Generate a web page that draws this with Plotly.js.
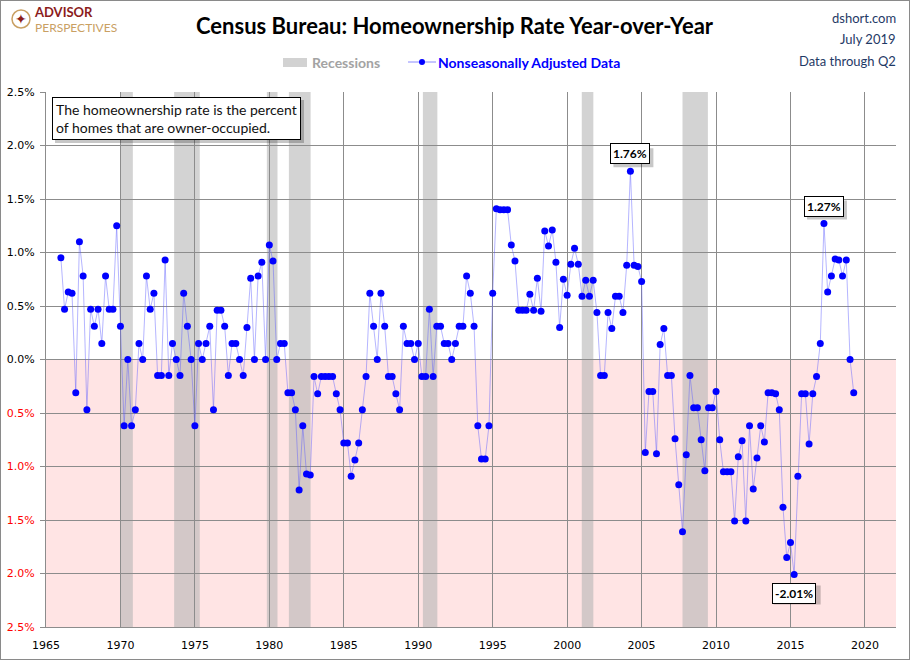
<!DOCTYPE html>
<html>
<head>
<meta charset="utf-8">
<script src="https://cdn.plot.ly/plotly-3.0.1.min.js"></script>
<style>
  html, body { margin: 0; padding: 0; background: #fff; }
  #wrap { position: relative; width: 910px; height: 661px; }
  #chart { width: 910px; height: 661px; }
  #frame { position: absolute; left: 0; top: 0; width: 910px; height: 660px; box-sizing: border-box;
           border: 1px solid #8a8a8a; pointer-events: none; }
</style>
</head>
<body>
<div id="wrap"><div id="chart"></div><div id="frame"></div></div>
<script>
// ---------------- DATA (YoY % change of homeownership rate, quarterly, starting 1966 Q1) ----------------
const firstYear = 1966;
const yoy1960s = [0.95, 0.47, 0.63, 0.62, -0.31, 1.10, 0.78, -0.47, 0.47, 0.31, 0.47, 0.15, 0.78, 0.47, 0.47, 1.25];
const yoy1970s = [0.31, -0.62, 0.00, -0.62, -0.47, 0.15, 0.00, 0.78, 0.47, 0.62, -0.15, -0.15, 0.93, -0.15, 0.15, 0.00,
                  -0.15, 0.62, 0.31, 0.00, -0.62, 0.15, 0.00, 0.15, 0.31, -0.47, 0.46, 0.46, 0.31, -0.15, 0.15, 0.15,
                  0.00, -0.15, 0.30, 0.76, 0.00, 0.78, 0.91, 0.00];
const yoy1980s = [1.07, 0.92, 0.00, 0.15, 0.15, -0.31, -0.31, -0.47, -1.22, -0.62, -1.07, -1.08, -0.16, -0.32, -0.16, -0.16,
                  -0.16, -0.16, -0.32, -0.47, -0.78, -0.78, -1.09, -0.94, -0.78, -0.47, -0.16, 0.62, 0.31, 0.00, 0.62, 0.31,
                  -0.16, -0.16, -0.32, -0.47, 0.31, 0.15, 0.15, 0.00];
const yoy1990s = [0.15, -0.16, -0.16, 0.47, -0.16, 0.31, 0.31, 0.15, 0.15, 0.00, 0.15, 0.31, 0.31, 0.78, 0.62, 0.31,
                  -0.62, -0.93, -0.93, -0.62, 0.62, 1.41, 1.40, 1.40, 1.40, 1.07, 0.92, 0.46, 0.46, 0.46, 0.61, 0.46,
                  0.76, 0.45, 1.20, 1.06, 1.21, 0.91, 0.30, 0.75];
const yoy2000s = [0.60, 0.89, 1.04, 0.89, 0.59, 0.74, 0.59, 0.74, 0.44, -0.15, -0.15, 0.44, 0.29, 0.59, 0.59, 0.44,
                  0.88, 1.76, 0.88, 0.87, 0.73, -0.87, -0.30, -0.30, -0.88, 0.14, 0.29, -0.15, -0.15, -0.74, -1.17, -1.61,
                  -0.89, -0.15, -0.45, -0.45, -0.75, -1.04, -0.45, -0.45];
const yoy2010s = [-0.30, -0.75, -1.05, -1.05, -1.05, -1.51, -0.91, -0.76, -1.51, -0.62, -1.21, -0.92, -0.62, -0.77, -0.31, -0.31,
                  -0.32, -0.47, -1.38, -1.85, -1.71, -2.01, -1.09, -0.32, -0.32, -0.79, -0.32, -0.16, 0.15, 1.27, 0.63, 0.78,
                  0.94, 0.93, 0.78, 0.93, 0.00, -0.31];
const recessionStarts = ["1969-12-31", "1973-08-10", "1979-11-01", "1981-04-25", "1990-04-25", "2000-12-25", "2007-10-01"];
const recessionEnds   = ["1970-11-01", "1975-05-01", "1980-07-20", "1982-10-10", "1991-04-15", "2001-10-05", "2009-06-15"];
const yTickVals = [2.5, 2.0, 1.5, 1.0, 0.5, 0.0, -0.5, -1.0, -1.5, -2.0, -2.5];
const yTickText = ["2.5%", "2.0%", "1.5%", "1.0%", "0.5%", "0.0%", "0.5%", "1.0%", "1.5%", "2.0%", "2.5%"];
const titleText = "Census Bureau: Homeownership Rate Year-over-Year";
const sourceLines = ["dshort.com", "July 2019", "Data through Q2"];
const noteText = "The homeownership rate is the percent<br>of homes that are owner-occupied.";
const logoLines = ["ADVISOR", "PERSPECTIVES"];

// ---------------- BUILD ----------------
const values = [].concat(yoy1960s, yoy1970s, yoy1980s, yoy1990s, yoy2000s, yoy2010s);
const dates = values.map((v, i) => {
  const y = firstYear + Math.floor(i / 4);
  const m = (i % 4) * 3 + 1;
  return y + "-" + String(m).padStart(2, "0") + "-01";
});

// plot geometry (pixels)
const L = 46, T = 92, W = 850, H = 535;
const PX = px => (px - L) / W;
const PY = py => (T + H - py) / H;

const FONT = "Lato, 'Open Sans', sans-serif";
const TICKFONT = "'DejaVu Sans', Verdana, sans-serif";
const SHADOW = "rgba(0,0,0,0.22)";

const ticktextStyled = yTickVals.map((v, i) => v < 0 ? '<span style="color:#ff0000">' + yTickText[i] + '</span>' : yTickText[i]);

const shapes = [];
// pink negative zone
shapes.push({type: "rect", xref: "paper", yref: "y", x0: 0, x1: 1, y0: -2.5, y1: 0,
             fillcolor: "rgb(255,228,228)", line: {width: 0}, layer: "below"});
// recession bands
recessionStarts.forEach((s, i) => {
  shapes.push({type: "rect", xref: "x", yref: "paper", x0: s, x1: recessionEnds[i], y0: 0, y1: 1,
               fillcolor: "rgb(180,180,180)", opacity: 0.59, line: {width: 0}, layer: "below"});
});
// legend swatches
shapes.push({type: "rect", xref: "paper", yref: "paper", x0: PX(283), x1: PX(307), y0: PY(67), y1: PY(58),
             fillcolor: "#d2d2d2", line: {width: 0}});
shapes.push({type: "line", xref: "paper", yref: "paper", x0: PX(408), x1: PX(436), y0: PY(62), y1: PY(62),
             line: {color: "rgba(90,90,255,0.7)", width: 1}});
shapes.push({type: "circle", xref: "paper", yref: "paper", x0: PX(419), x1: PX(425), y0: PY(65), y1: PY(59),
             fillcolor: "#0000ff", line: {width: 0}});
// logo circle
shapes.push({type: "circle", xref: "paper", yref: "paper", x0: PX(12), x1: PX(30), y0: PY(28), y1: PY(10),
             fillcolor: "rgba(0,0,0,0)", line: {color: "#c9a063", width: 1.5}});
// note box shadow
shapes.push({type: "rect", xref: "paper", yref: "paper", x0: PX(55), x1: PX(304), y0: PY(143), y1: PY(100),
             fillcolor: SHADOW, line: {width: 0}, layer: "above"});

const annotations = [];
// title
annotations.push({xref: "paper", yref: "paper", x: PX(455), y: PY(25), xanchor: "center", yanchor: "middle",
                  text: titleText, showarrow: false, font: {family: FONT, size: 22, color: "#000", weight: "bold"}});
// logo text (one two-line annotation)
annotations.push({xref: "paper", yref: "paper", x: PX(32), y: PY(19.5), xanchor: "left", yanchor: "middle", align: "left",
                  text: '<span style="color:#8b1c1c;font-weight:bold;font-size:13px">' + logoLines[0] + '</span><br>' +
                        '<span style="color:#c9a063;font-size:12px">' + logoLines[1] + '</span>',
                  showarrow: false, font: {family: FONT, size: 11.5, color: "#8b1c1c"}});
annotations.push({xref: "paper", yref: "paper", x: PX(21), y: PY(19), xanchor: "center", yanchor: "middle",
                  text: "✦", showarrow: false, font: {family: "'DejaVu Sans'", size: 14, color: "#8b1c1c"}});
// source lines
sourceLines.forEach((t, i) => {
  annotations.push({xref: "paper", yref: "paper", x: PX(898), y: PY(18 + i * 21.5), xanchor: "right", yanchor: "middle",
                    text: t, showarrow: false, font: {family: FONT, size: 13, color: "#1f3a66"}});
});
// legend text
annotations.push({xref: "paper", yref: "paper", x: PX(310), y: PY(62), xanchor: "left", yanchor: "middle",
                  text: "Recessions", showarrow: false, font: {family: FONT, size: 14, color: "#a3a3a3", weight: "bold"}});
annotations.push({xref: "paper", yref: "paper", x: PX(436), y: PY(62), xanchor: "left", yanchor: "middle",
                  text: "Nonseasonally Adjusted Data", showarrow: false, font: {family: FONT, size: 14, color: "#0000ff", weight: "bold"}});
// note box
annotations.push({xref: "paper", yref: "paper", x: PX(52), y: PY(97), xanchor: "left", yanchor: "top",
                  text: noteText, align: "left", showarrow: false, borderpad: 3, borderwidth: 1,
                  bgcolor: "#fff", bordercolor: "#000", font: {family: FONT, size: 14, color: "#111"}});

// data labels: overall max, max since 2010, overall min
function labelAt(i, above) {
  const txt = values[i].toFixed(2) + "%";
  const w = txt.length * 7 + 5, h = 19;
  const ys = above ? 7 : -8;
  const b0 = above ? ys : ys - h, b1 = above ? ys + h : ys;
  shapes.push({type: "rect", xref: "x", yref: "y", xsizemode: "pixel", ysizemode: "pixel",
               xanchor: dates[i], yanchor: values[i], x0: -w / 2 + 3, x1: w / 2 + 3, y0: b0 - 3, y1: b1 - 3,
               fillcolor: SHADOW, line: {width: 0}, layer: "above"});
  annotations.push({xref: "x", yref: "y", x: dates[i], y: values[i], xanchor: "center",
                    yanchor: above ? "bottom" : "top", text: txt, showarrow: false,
                    yshift: ys, bgcolor: "#fff", bordercolor: "#000", borderpad: 2, borderwidth: 1,
                    font: {family: FONT, size: 12, weight: "bold", color: "#000"}});
}
const iMax = values.indexOf(Math.max(...values));
const start2010 = dates.indexOf("2010-01-01");
const recent = values.slice(start2010);
const iMaxRecent = start2010 + recent.indexOf(Math.max(...recent));
const iMin = values.indexOf(Math.min(...values));
labelAt(iMax, true);
labelAt(iMaxRecent, true);
labelAt(iMin, false);

const trace = {
  type: "scatter", mode: "lines+markers", x: dates, y: values,
  line: {color: "rgba(90,90,255,0.45)", width: 1},
  marker: {color: "#0000ff", size: 7},
  hoverinfo: "x+y", showlegend: false
};

const layout = {
  width: 910, height: 661,
  margin: {l: L, r: 910 - L - W, t: T, b: 661 - T - H},
  paper_bgcolor: "#fff", plot_bgcolor: "rgba(0,0,0,0)",
  showlegend: false,
  xaxis: {
    type: "date", range: ["1965-01-01", "2022-02-01"],
    tick0: "1965-01-01", dtick: "M60", tickformat: "%Y",
    showgrid: true, gridcolor: "#8c8c8c", gridwidth: 1,
    showline: true, linecolor: "#8c8c8c", linewidth: 1,
    ticks: "", zeroline: false, ticklabelstandoff: 8,
    tickfont: {family: TICKFONT, size: 11, color: "#000"}
  },
  yaxis: {
    range: [-2.5, 2.5], tickvals: yTickVals, ticktext: ticktextStyled,
    showgrid: true, gridcolor: "#8c8c8c", gridwidth: 1,
    showline: true, linecolor: "#8c8c8c", linewidth: 1,
    ticks: "outside", ticklen: 5, tickcolor: "#8c8c8c",
    zeroline: false, ticklabelstandoff: 3,
    tickfont: {family: TICKFONT, size: 11, color: "#000"}
  },
  shapes: shapes,
  annotations: annotations
};

Plotly.newPlot("chart", [trace], layout, {displayModeBar: false, staticPlot: true});
</script>
</body>
</html>
